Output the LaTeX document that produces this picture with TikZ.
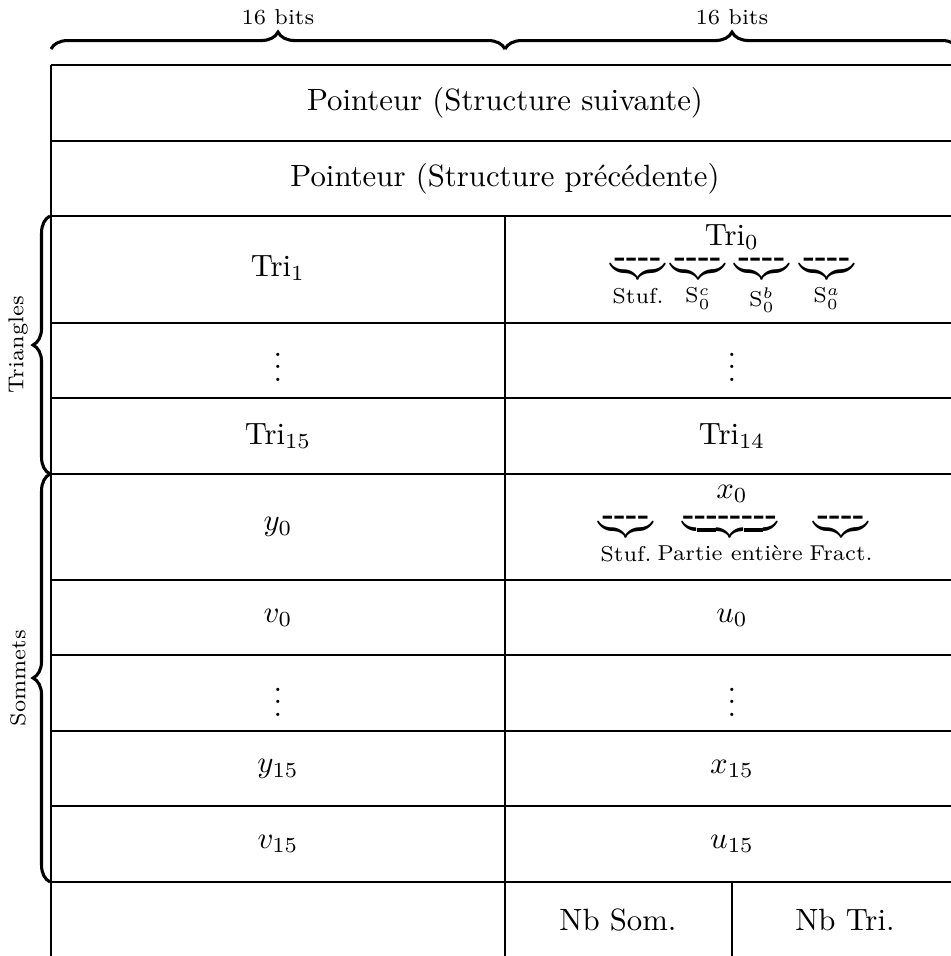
\documentclass[tikz,border=0pt]{standalone}
\usepackage{amsmath}
\usetikzlibrary{decorations.pathreplacing}
\newcommand\tirets[1]{\text{\raisebox{-1.8pt}[0pt][0pt]{\bfseries #1}}}
\begin{document}
\begin{tikzpicture}[x=0.325pt,y=-0.325pt,
		accolade/.style={decorate,decoration={brace,amplitude=5.5pt},line width=1pt},
		petit/.style={font=\scriptsize},
		champ/.style={inner sep=0pt,anchor=north}]
			\useasboundingbox (0,0) rectangle (951,956);
			% la grille du tableau
			\foreach \y in {65,141,216,323,398,474,580,655,731,806,882}
				\draw (51,\y) -- (959,\y);
			\draw (51,65) -- (51,960) (959,65) -- (959,960);
			\draw (505,216) -- (505,960);
			\draw (732,882) -- (732,960);
			% accolades
			\coordinate (hg) at (51,49);
			\coordinate (hm) at (505,49);
			\coordinate (hd) at (959,49);
			\coordinate (gt) at (50,216);
			\coordinate (gm) at (50,474);
			\coordinate (gb) at (50,882);
			\draw[accolade] (hg) -- (hm);
			\draw[accolade] (hm) -- (hd);
			\draw[accolade] (gm) -- (gt);
			\draw[accolade] (gb) -- (gm);
			\node[petit] (bits1) at (278,17) {16 bits};
			\node[petit] (bits2) at (732,17) {16 bits};
			\node[petit,rotate=90] (triangles) at (18,345) {Triangles};
			\node[petit,rotate=90] (sommets) at (18,678) {Sommets};
			% les cases
			\node (suiv) at (505,103) {Pointeur (Structure suivante)};
			\node (prec) at (505,179) {Pointeur (Structure précédente)};
			\node (tri1) at (278,268) {Tri$_1$};
			\node (tri0) at (732,237) {Tri$_0$};
			\node[champ] (stuf0) at (638,260) {$\underbrace{\tirets{-{}-{}-{}-}}_{\text{Stuf.}}$};
			\node[champ] (sc) at (698,260) {$\underbrace{\tirets{-{}-{}-{}-}}_{\mathrm{S}_0^c}$};
			\node[champ] (sb) at (762,260) {$\underbrace{\tirets{-{}-{}-{}-}}_{\mathrm{S}_0^b}$};
			\node[champ] (sa) at (827,260) {$\underbrace{\tirets{-{}-{}-{}-}}_{\mathrm{S}_0^a}$};
			\node (vd1) at (278,358) {$\vdots$};
			\node (vd2) at (732,358) {$\vdots$};
			\node (tri15) at (278,436) {Tri$_{15}$};
			\node (tri14) at (732,436) {Tri$_{14}$};
			\node (y0) at (278,527) {$y_0$};
			\node (x0) at (732,494) {$x_0$};
			\node[champ] (stuf1) at (626,518) {$\underbrace{\tirets{-{}-{}-{}-}}_{\text{Stuf.}}$};
			\node[champ] (ent) at (730,518) {$\underbrace{\tirets{-{}-{}-{}-{}-{}-{}-{}-}}_{\text{Partie entière}}$};
			\node[champ] (fract) at (841,518) {$\underbrace{\tirets{-{}-{}-{}-}}_{\text{Fract.}}$};
			\node (v0) at (278,618) {$v_0$};
			\node (u0) at (732,618) {$u_0$};
			\node (vd3) at (278,693) {$\vdots$};
			\node (vd4) at (732,693) {$\vdots$};
			\node (y15) at (278,769) {$y_{15}$};
			\node (x15) at (732,769) {$x_{15}$};
			\node (v15) at (278,844) {$v_{15}$};
			\node (u15) at (732,844) {$u_{15}$};
			\node (nbsom) at (618,920) {Nb Som.};
			\node (nbtri) at (845,920) {Nb Tri.};
\end{tikzpicture}
\end{document}
